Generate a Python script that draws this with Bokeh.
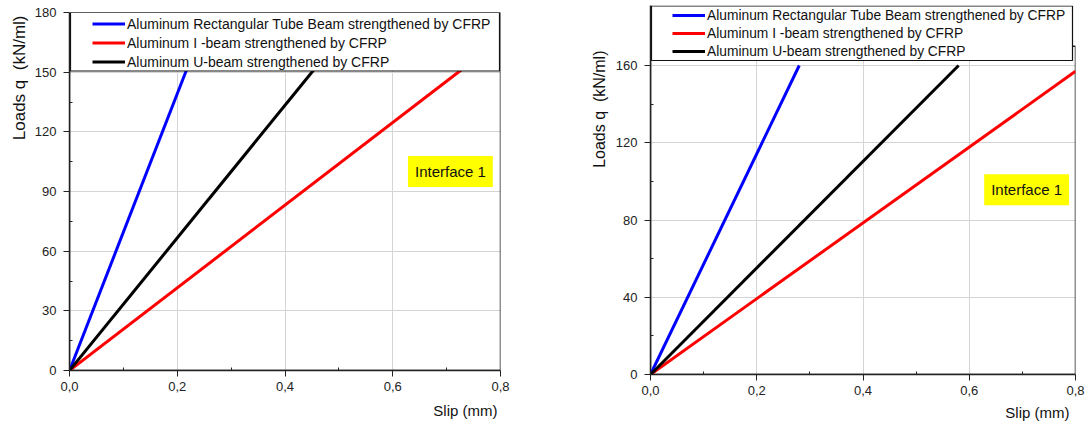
from bokeh.plotting import figure
from bokeh.models import (Legend, LegendItem, BoxAnnotation, Label, Title,
                          FixedTicker, CustomJSTickFormatter, Range1d)
from bokeh.embed import file_html
from bokeh.resources import INLINE

FONT = "Liberation Sans"

series_names = ["Aluminum Rectangular Tube Beam strengthened by CFRP",
                "Aluminum I -beam strengthened by CFRP",
                "Aluminum U-beam strengthened by CFRP"]
series_colors = ["#0000ff", "#ff0000", "#000000"]

x_ticks = [0.0, 0.2, 0.4, 0.6, 0.8]
x_minor = [0.1, 0.3, 0.5, 0.7]

# left panel data (slip mm, load kN/ml)
left_slip_rect = [0.0, 0.23]
left_q_rect = [0, 160]
left_slip_I = [0.0, 0.77]
left_q_I = [0, 160]
left_slip_U = [0.0, 0.48]
left_q_U = [0, 160]
left_y_ticks = [0, 30, 60, 90, 120, 150, 180]
left_y_minor = [15, 45, 75, 105, 135, 165]

# right panel data
right_slip_rect = [0.0, 0.28]
right_q_rect = [0, 160]
right_slip_I = [0.0, 0.8]
right_q_I = [0, 157]
right_slip_U = [0.0, 0.58]
right_q_U = [0, 160]
right_y_ticks = [0, 40, 80, 120, 160]
right_y_minor = [20, 60, 100, 140]


def make_panel(series, y_view_max, y_axis_max, y_ticks, y_minor, width, height, borders,
               legend_loc, box, label_pos, ylab_size, ylab_offset, ylab_standoff,
               leg_font, leg_row, xlab_standoff, xlab_offset):
    p = figure(width=width, height=height, output_backend="svg", toolbar_location=None,
               x_range=Range1d(0, 0.8), y_range=Range1d(0, y_view_max), title=None)
    p.min_border_left, p.min_border_right, p.min_border_top, p.min_border_bottom = borders
    p.background_fill_color = "white"
    p.border_fill_color = "white"
    p.outline_line_color = None

    xt = FixedTicker(ticks=x_ticks, minor_ticks=x_minor)
    yt = FixedTicker(ticks=y_ticks, minor_ticks=y_minor)
    p.xaxis.ticker = xt
    p.yaxis.ticker = yt
    p.xgrid.ticker = xt
    p.ygrid.ticker = yt
    p.xaxis.formatter = CustomJSTickFormatter(code="return tick.toFixed(1).replace('.', ',');")
    for ax in (p.xaxis, p.yaxis):
        ax.axis_line_color = "#222222"
        ax.axis_line_width = 1.5
        ax.major_tick_line_color = "#222222"
        ax.minor_tick_line_color = "#222222"
        ax.major_tick_out = 6
        ax.major_tick_in = 0
        ax.minor_tick_out = 0
        ax.minor_tick_in = 3
        ax.major_label_text_font = FONT
        ax.major_label_text_font_size = "13px"
        ax.major_label_text_color = "#222222"
    p.yaxis.major_label_standoff = 7
    p.xaxis.major_label_standoff = 5
    for g in (p.xgrid, p.ygrid):
        g.grid_line_color = "#d4d4d4"
        g.grid_line_width = 1

    # plot-area frame (drawn as an outline of the axes box)
    frame = BoxAnnotation(left=0, right=0.8, bottom=0, top=y_axis_max,
                          fill_alpha=0, line_color="#222222", line_alpha=1.0,
                          line_width=1.5, level="underlay")
    p.add_layout(frame)

    renderers = []
    for (xs, ys), c in zip(series, series_colors):
        renderers.append(p.line(xs, ys, line_color=c, line_width=3))

    b = BoxAnnotation(left=box[0], right=box[1], top=box[2], bottom=box[3],
                      left_units="canvas", right_units="canvas",
                      top_units="canvas", bottom_units="canvas",
                      fill_color="white", fill_alpha=1.0,
                      line_color="#111111", line_alpha=1.0, line_width=1.2)
    p.add_layout(b)

    items = [LegendItem(label=n, renderers=[r]) for n, r in zip(series_names, renderers)]
    legend = Legend(items=items, location=legend_loc, orientation="vertical",
                    padding=0, margin=0, spacing=0,
                    glyph_width=33, glyph_height=leg_row, label_height=leg_row,
                    label_standoff=2, label_text_font=FONT,
                    label_text_font_size=leg_font, label_text_color="#111111",
                    border_line_color=None, background_fill_alpha=0)
    p.add_layout(legend)

    lab = Label(x=label_pos[0], y=label_pos[1], text="Interface 1",
                text_align="center", text_baseline="middle",
                text_font=FONT, text_font_size="15px", text_color="#111111",
                background_fill_color="#ffff00", background_fill_alpha=1.0,
                padding=7)
    p.add_layout(lab)

    yt_title = Title(text="Loads q\u00a0 (kN/ml)", align="right", text_font=FONT,
                     text_font_size=ylab_size, text_font_style="normal",
                     text_color="#111111", offset=ylab_offset, standoff=ylab_standoff)
    p.add_layout(yt_title, "left")
    xt_title = Title(text="Slip (mm)", align="right", text_font=FONT,
                     text_font_size="15px", text_font_style="normal",
                     text_color="#111111", offset=xlab_offset, standoff=xlab_standoff)
    p.add_layout(xt_title, "below")
    return p


left = make_panel(
    [(left_slip_rect, left_q_rect), (left_slip_I, left_q_I), (left_slip_U, left_q_U)],
    180, 180, left_y_ticks, left_y_minor, 560, 430, (69, 60, 12, 60),
    (23, 299), (70, 499, 12, 70.5), (0.707, 100), "17px", 3, 6, "14px", 19, 13, 3)

right = make_panel(
    [(right_slip_rect, right_q_rect), (right_slip_I, right_q_I), (right_slip_U, right_q_U)],
    191.07, 170, right_y_ticks, right_y_minor, 528, 430, (90, 13, 5, 56),
    (22, 314), (91, 512, 5.5, 60), (0.708, 95.6), "16px", 45, 9, "13.8px", 18, 9, 6)

html = file_html([left, right], INLINE)
html = html.replace(
    "</head>",
    "<style>body{display:flex !important;flex-direction:row;align-items:flex-start;}</style></head>",
    1)
open("out.html", "w").write(html)
